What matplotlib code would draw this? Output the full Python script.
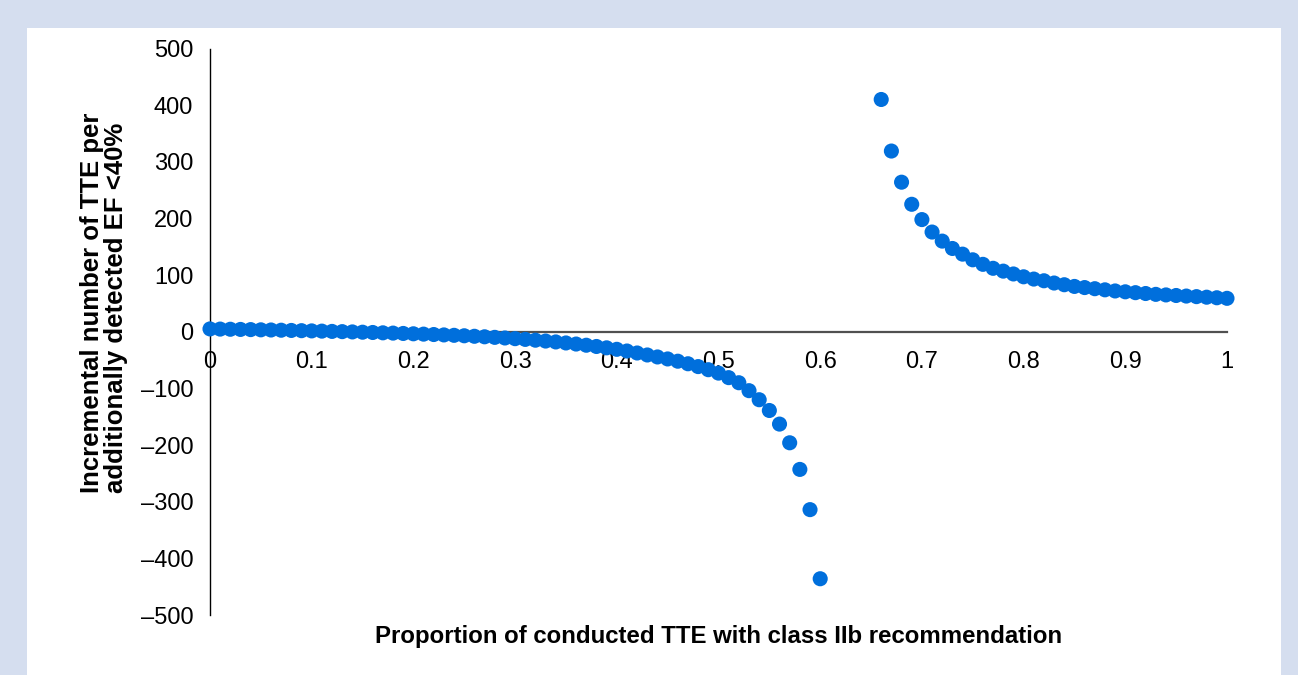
import numpy as np
import matplotlib
matplotlib.use('Agg')
import matplotlib.pyplot as plt
from matplotlib.patches import Rectangle

plt.rcParams['font.family'] = ['Liberation Sans', 'DejaVu Sans']

# proportion of conducted TTE with class IIb recommendation (0.61-0.65 fall off the scale)
proportion = [round(i * 0.01, 2) for i in range(0, 61)] + [round(i * 0.01, 2) for i in range(66, 101)]

incremental_tte = [
    5, 4.7, 4.4, 4.1, 3.8, 3.4, 3.1, 2.7, 2.3, 1.9,
    1.5, 1.1, 0.6, 0.2, -0.3, -0.8, -1.3, -1.9, -2.4, -3,
    -3.6, -4.2, -4.9, -5.6, -6.3, -7.1, -8, -8.9, -9.9, -11,
    -12.2, -13.5, -14.9, -16.4, -18, -19.8, -21.7, -23.8, -26, -28.4,
    -31, -34, -37.5, -41, -44.5, -48, -52, -56.5, -61.5, -67,
    -73, -81, -90, -104, -120, -139, -163, -196, -243, -314,
    -436,
    410, 319, 264, 225, 198, 176, 160, 147, 137, 127,
    119, 112, 107, 102, 97, 93, 90, 86, 83, 80,
    78, 76, 74, 72, 70.5, 69, 67.5, 66, 65, 64,
    63, 62, 61, 60, 59,
]

x_ticks = [0, 0.1, 0.2, 0.3, 0.4, 0.5, 0.6, 0.7, 0.8, 0.9, 1]
x_tick_labels = ['0', '0.1', '0.2', '0.3', '0.4', '0.5', '0.6', '0.7', '0.8', '0.9', '1']
y_ticks = [-500, -400, -300, -200, -100, 0, 100, 200, 300, 400, 500]
y_tick_labels = ['\u2013500', '\u2013400', '\u2013300', '\u2013200', '\u2013100',
                 '0', '100', '200', '300', '400', '500']

W, H = 1298, 675
fig = plt.figure(figsize=(W / 100, H / 100), dpi=100)
fig.patch.set_facecolor('#d5deef')
fig.add_artist(Rectangle((27 / W, 0), (1281 - 27) / W, (H - 28) / H,
                         transform=fig.transFigure, facecolor='white',
                         edgecolor='none', zorder=0))

ax = fig.add_axes([210 / W, 1 - 615 / H, 1017 / W, (615 - 48.5) / H])
ax.patch.set_alpha(0)

ax.scatter(proportion, incremental_tte, s=118, color='#006fdc',
           edgecolors='none', zorder=3, clip_on=False)

ax.set_xlim(0, 1)
ax.set_ylim(-500, 500)

ax.spines['top'].set_visible(False)
ax.spines['right'].set_visible(False)
ax.spines['bottom'].set_position(('data', 0))
ax.spines['bottom'].set_color('#505050')
ax.spines['bottom'].set_linewidth(1.6)
ax.spines['left'].set_color('black')
ax.spines['left'].set_linewidth(1.0)

ax.set_xticks(x_ticks)
ax.set_xticklabels(x_tick_labels)
ax.set_yticks(y_ticks)
ax.set_yticklabels(y_tick_labels)
ax.tick_params(axis='both', length=0, labelsize=17, colors='black')
ax.tick_params(axis='x', pad=14)
ax.tick_params(axis='y', pad=12)

fig.text(104 / W, 1 - 302.5 / H,
         'Incremental number of TTE per\nadditionally detected EF <40%',
         rotation=90, ha='center', va='center', multialignment='left',
         fontsize=18.5, fontweight='bold', linespacing=1.05)
fig.text(719 / W, 1 - 636 / H,
         'Proportion of conducted TTE with class IIb recommendation',
         ha='center', va='center', fontsize=17.3, fontweight='bold')

fig.savefig('out.png', dpi=100)
